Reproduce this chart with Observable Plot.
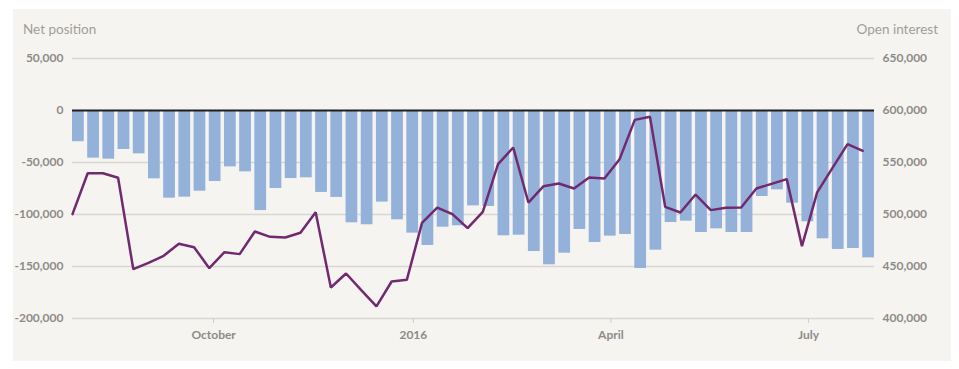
<!DOCTYPE html>
<html><head><meta charset="utf-8">
<script src="https://cdn.jsdelivr.net/npm/d3@7"></script>
<script src="https://cdn.jsdelivr.net/npm/@observablehq/plot@0.6"></script>
<style>
body{margin:0;background:#fff;width:959px;height:369px;position:relative;overflow:hidden;font-family:Lato,sans-serif}
#panel{position:absolute;left:13px;top:9px;width:938px;height:352px;background:#f6f4f0}
#chart{position:absolute;left:0;top:0}
.lab{position:absolute;top:20px;font-size:13.5px;color:#a09e9a;line-height:18px}
</style></head><body>
<div id="panel"></div>
<div class="lab" style="left:23px">Net position</div>
<div class="lab" style="right:21px">Open interest</div>
<div id="chart"></div>
<script>
// Weekly data, first week starting 2015-07-28
const startDate = "2015-07-28";
const netPosition = [
  -30000, -45800, -46800, -37500, -41700, -65700, -84300, -83300, -77600, -68300,
  -54200, -59000, -96200, -75000, -65400, -64700, -78800, -83600, -108000, -109900,
  -88100, -105100, -117900, -129800, -112200, -110900, -91700, -92300, -120500, -119900,
  -135600, -148400, -137200, -114400, -126900, -120800, -119200, -151900, -134300, -107700,
  -106400, -117300, -113800, -117300, -117300, -82700, -76300, -89100, -107000, -123400,
  -133600, -132700, -141700
];
const openInterest = [
  500300, 539700, 539700, 535300, 447400, 453500, 460300, 471800, 468600, 448400,
  463800, 461900, 483700, 478500, 477900, 482400, 502200, 429800, 443300, 427300,
  411600, 435600, 437200, 492000, 506700, 500300, 486900, 502600, 548400, 564400,
  511500, 527200, 529800, 525000, 535600, 534600, 553200, 591000, 593900, 507400,
  501900, 519200, 504200, 506400, 506700, 525000, 529500, 534000, 469600, 521200,
  544600, 567600, 561200
];
const leftTicks = [50000, 0, -50000, -100000, -150000, -200000];
const rightTicks = [650000, 600000, 550000, 500000, 450000, 400000];
const xTickDates = ["2015-10-01", "2016-01-01", "2016-04-01", "2016-07-01"];
const xTickLabels = ["October", "2016", "April", "July"];

const offset = 600000; // right axis = left axis + offset
const start = new Date(startDate);
const data = netPosition.map((v, i) => ({
  date: d3.utcDay.offset(start, 7 * i),
  net: v,
  oi: openInterest[i]
}));
const xTicks = xTickDates.map(d => new Date(d));
const fmt = d => d3.format(",")(d).replace("\u2212", "-");
const tickFont = {fontSize: 12, fontWeight: 700, fill: "#8d8b87"};

const chart = Plot.plot({
  width: 959,
  height: 369,
  marginLeft: 72,
  marginRight: 85,
  marginTop: 58,
  marginBottom: 51,
  style: {background: "transparent", fontFamily: "Lato, sans-serif", overflow: "visible"},
  x: {type: "utc", domain: [start, new Date("2016-07-31T10:00:00Z")]},
  y: {domain: [-200000, 50000]},
  marks: [
    Plot.ruleY(leftTicks.filter(d => d !== 0), {stroke: "#d9d6d1", strokeWidth: 1.3}),
    Plot.rectY(data, {
      x1: "date",
      x2: d => d3.utcHour.offset(d.date, 130),
      y1: 0,
      y2: "net",
      fill: "#94b1da"
    }),
    Plot.ruleY([0], {stroke: "#1e1e1e", strokeWidth: 2}),
    Plot.lineY(data, {x: "date", y: d => d.oi - offset, stroke: "#71296f", strokeWidth: 2.5, strokeLinejoin: "miter"}),
    Plot.axisY(leftTicks, {anchor: "left", tickSize: 0, tickPadding: 9, tickFormat: fmt, label: null, ...tickFont}),
    Plot.axisY(rightTicks.map(d => d - offset), {anchor: "right", tickSize: 0, tickPadding: 8, tickFormat: d => fmt(d + offset), label: null, ...tickFont}),
    Plot.axisX(xTicks, {anchor: "bottom", tickSize: 5, tickPadding: 7, stroke: "#cfccc7",
      tickFormat: (d, i) => xTickLabels[i], label: null, ...tickFont})
  ]
});
document.getElementById("chart").appendChild(chart);
</script>
</body></html>
